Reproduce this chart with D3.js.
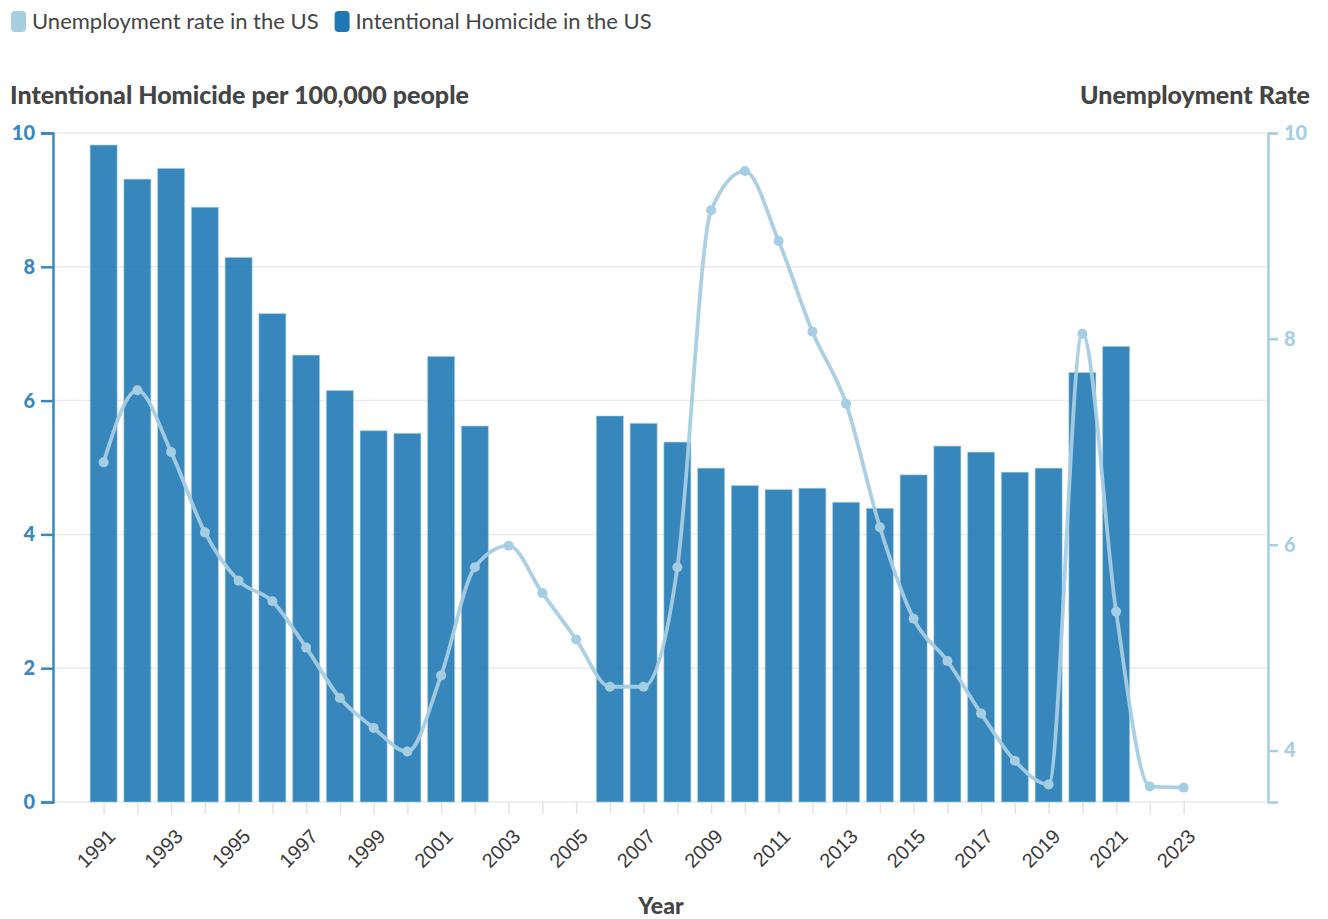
<!DOCTYPE html>
<html>
<head>
<meta charset="utf-8">
<script src="https://cdn.jsdelivr.net/npm/d3@7"></script>
<style>
  html, body { margin: 0; padding: 0; background: #fff; }
  svg { display: block; font-family: Lato, "Open Sans", sans-serif; }
</style>
</head>
<body>
<svg id="chart" width="1328" height="919"></svg>
<script>
// Years shown on the x axis
const years = d3.range(1991, 2024);

// Intentional homicide per 100,000 people (no data for 2003-2005, 2022-2023)
const homicideYears = [1991, 1992, 1993, 1994, 1995, 1996, 1997, 1998, 1999, 2000, 2001, 2002,
  2006, 2007, 2008, 2009, 2010, 2011, 2012, 2013, 2014, 2015, 2016, 2017, 2018, 2019, 2020, 2021];
const homicideValues = [9.82, 9.31, 9.47, 8.89, 8.14, 7.30, 6.68, 6.15, 5.55, 5.51, 6.66, 5.62,
  5.77, 5.66, 5.38, 4.99, 4.73, 4.67, 4.69, 4.48, 4.39, 4.89, 5.32, 5.23, 4.93, 4.99, 6.42, 6.81];

// Unemployment rate in the US (%), 1991-2023
const unemploymentValues = [6.8, 7.5, 6.9, 6.12, 5.65, 5.45, 5.0, 4.51, 4.22, 3.99, 4.73, 5.78,
  5.99, 5.53, 5.08, 4.62, 4.62, 5.78, 9.25, 9.63, 8.95, 8.07, 7.37, 6.17, 5.28, 4.87, 4.36,
  3.9, 3.67, 8.05, 5.35, 3.65, 3.64];

const leftTicks = [0, 2, 4, 6, 8, 10];
const rightTicks = [4, 6, 8, 10];
const yearLabels = years.filter(y => y % 2 === 1);

const legendItems = [
  { label: "Unemployment rate in the US", color: "#a6cee3" },
  { label: "Intentional Homicide in the US", color: "#1f78b4" }
];

const svg = d3.select("#chart");
const plotLeft = 53, plotRight = 1268, plotTop = 133, plotBottom = 802;

const x = d3.scaleLinear().domain([1989.5, 2025.5]).range([plotLeft, plotRight]);
const step = x(1) - x(0);
const barW = step * 0.8;
const yL = d3.scaleLinear().domain([0, 10]).range([plotBottom, plotTop]);
const yR = d3.scaleLinear().domain([3.5, 10]).range([plotBottom, plotTop]);

// Gridlines
svg.append("g").selectAll("line").data(leftTicks).join("line")
  .attr("x1", plotLeft).attr("x2", plotRight)
  .attr("y1", d => yL(d)).attr("y2", d => yL(d))
  .attr("stroke", "#ebebeb").attr("stroke-width", 1.5);

// Homicide bars
const bars = homicideYears.map((yr, i) => ({ yr, v: homicideValues[i] }));
svg.append("g").selectAll("rect").data(bars).join("rect")
  .attr("x", d => x(d.yr) - barW / 2)
  .attr("width", barW)
  .attr("y", d => yL(d.v))
  .attr("height", d => yL(0) - yL(d.v))
  .attr("fill", "#1f78b4").attr("fill-opacity", 0.89)
  .attr("stroke", "#a6cee3").attr("stroke-opacity", 0.6).attr("stroke-width", 1);

// Unemployment line
const pts = years.map((yr, i) => ({ yr, v: unemploymentValues[i] }));
const line = d3.line().x(d => x(d.yr)).y(d => yR(d.v)).curve(d3.curveMonotoneX);
svg.append("path").datum(pts)
  .attr("d", line)
  .attr("fill", "none").attr("stroke", "#a6cee3").attr("stroke-width", 3.8)
  .attr("stroke-opacity", 0.95);
svg.append("g").selectAll("circle").data(pts).join("circle")
  .attr("cx", d => x(d.yr)).attr("cy", d => yR(d.v)).attr("r", 5)
  .attr("fill", "#a6cee3");

// Left axis
const gL = svg.append("g").attr("transform", `translate(${plotLeft},0)`)
  .call(d3.axisLeft(yL).tickValues(leftTicks).tickSize(12).tickPadding(6).tickFormat(d3.format("d")));
gL.select(".domain").attr("stroke", "#3a87c0").attr("stroke-width", 2.5);
gL.selectAll(".tick line").attr("stroke", "#3a87c0").attr("stroke-width", 2.5);
gL.selectAll(".tick text").attr("fill", "#3a87c0").attr("font-size", 20).attr("font-weight", 900)
  .attr("font-family", "Lato, sans-serif");

// Right axis
const gR = svg.append("g").attr("transform", `translate(${plotRight},0)`)
  .call(d3.axisRight(yR).tickValues(rightTicks).tickSize(10).tickPadding(6).tickFormat(d3.format("d")));
gR.select(".domain").attr("stroke", "#a6cee3").attr("stroke-width", 2.5);
gR.selectAll(".tick line").attr("stroke", "#a6cee3").attr("stroke-width", 2.5);
gR.selectAll(".tick text").attr("fill", "#a6cee3").attr("font-size", 20).attr("font-weight", 900)
  .attr("font-family", "Lato, sans-serif");

// Bottom axis: a tick per year, labels every other year
const gB = svg.append("g").attr("transform", `translate(0,${plotBottom})`)
  .call(d3.axisBottom(x).tickValues(years).tickSize(12).tickSizeOuter(0)
    .tickFormat(d => yearLabels.includes(d) ? String(d) : ""));
gB.select(".domain").remove();
gB.selectAll(".tick line").attr("stroke", "#e3e3e3").attr("stroke-width", 1.5);
gB.selectAll(".tick text")
  .attr("fill", "#3a3a3a").attr("font-size", 20)
  .attr("text-anchor", "end")
  .attr("dx", 0).attr("dy", 0)
  .attr("transform", "translate(2,25) rotate(-45)");

// Axis titles
svg.append("text").attr("x", 10).attr("y", 104)
  .attr("font-size", 25).attr("font-weight", 900).attr("fill", "#444")
  .text("Intentional Homicide per 100,000 people");
svg.append("text").attr("x", 1310).attr("y", 104).attr("text-anchor", "end")
  .attr("font-size", 25).attr("font-weight", 900).attr("fill", "#444")
  .text("Unemployment Rate");
svg.append("text").attr("x", 661).attr("y", 914).attr("text-anchor", "middle")
  .attr("font-size", 23).attr("font-weight", 900).attr("fill", "#444")
  .text("Year");

// Legend
const lg = svg.append("g").attr("transform", "translate(11,11)");
let lx = 0;
legendItems.forEach(item => {
  const g = lg.append("g").attr("transform", `translate(${lx},0)`);
  g.append("rect").attr("width", 15).attr("height", 21).attr("rx", 4)
    .attr("fill", item.color);
  const t = g.append("text").attr("x", 21).attr("y", 18)
    .attr("font-size", 22).attr("fill", "#444").text(item.label);
  lx += 21 + t.node().getComputedTextLength() + 16;
});
</script>
</body>
</html>
